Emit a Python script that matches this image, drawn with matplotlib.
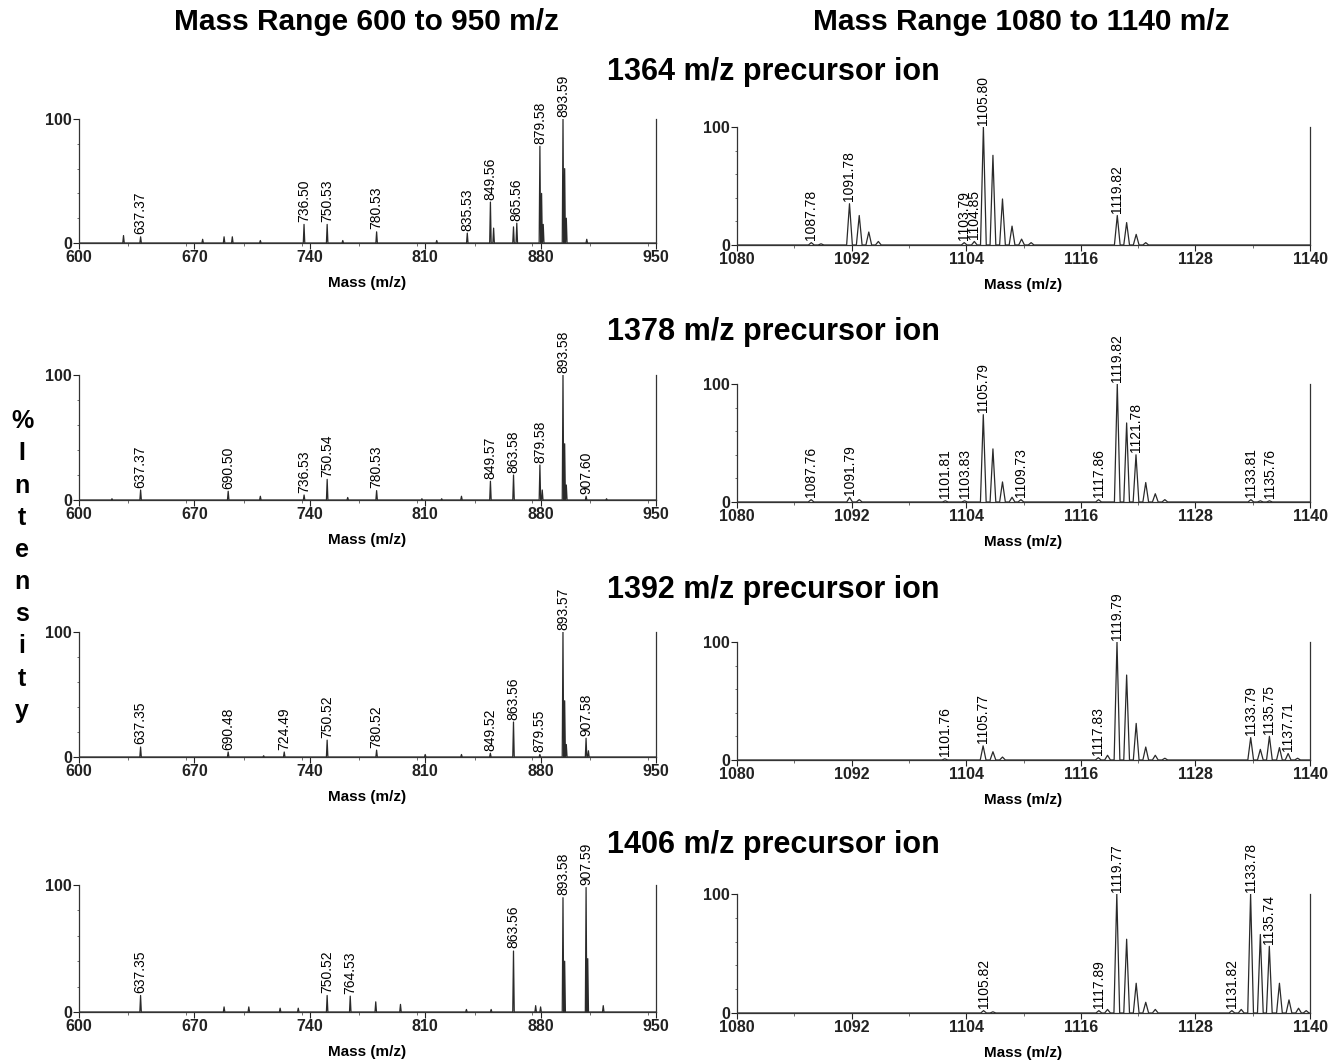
import matplotlib
matplotlib.use("Agg")
import matplotlib.pyplot as plt
from matplotlib.ticker import MultipleLocator

# peak lists (m/z, % intensity)
l1364_mz = [627, 637.37, 675, 688, 693, 710, 736.50, 750.53, 760, 780.53, 817, 835.53,
            849.56, 851.5, 863.56, 865.56, 879.58, 880.6, 881.6, 893.59, 894.6, 895.6, 908]
l1364_int = [6, 5, 3, 5, 5, 2, 15, 15, 2, 9, 2, 8,
             33, 12, 13, 16, 78, 40, 15, 100, 60, 20, 3]
l1364_lab = [637.37, 736.50, 750.53, 780.53, 835.53, 849.56, 865.56, 879.58, 893.59]

r1364_mz = [1087.78, 1088.8, 1091.78, 1092.8, 1093.8, 1094.8, 1103.79, 1104.85, 1105.80,
            1106.8, 1107.8, 1108.8, 1109.8, 1110.8, 1119.82, 1120.8, 1121.8, 1122.8]
r1364_int = [2, 1, 35, 25, 11, 3, 2, 3, 100, 76, 39, 16, 5, 2, 25, 19, 9, 2]
r1364_lab = [1087.78, 1091.78, 1103.79, 1104.85, 1105.80, 1119.82]

l1378_mz = [620, 637.37, 690.50, 710, 736.53, 750.54, 763, 780.53, 808, 820, 832,
            849.57, 863.58, 879.58, 881, 893.58, 894.6, 895.6, 907.60, 920]
l1378_int = [1, 8, 7, 3, 4, 16.5, 2, 7.5, 1, 1, 3,
             15, 20, 28, 8, 100, 45, 12, 3, 1]
l1378_lab = [637.37, 690.50, 736.53, 750.54, 780.53, 849.57, 863.58, 879.58, 893.58, 907.60]

r1378_mz = [1087.76, 1091.79, 1092.8, 1101.81, 1103.83, 1105.79, 1106.8, 1107.8, 1108.8,
            1109.73, 1117.86, 1119.82, 1120.8, 1121.78, 1122.8, 1123.8, 1124.8,
            1133.81, 1134.8, 1135.76]
r1378_int = [2, 4, 2, 1, 1, 74, 45, 17, 4, 2, 2, 100, 67, 40, 16.5, 7, 2, 2, 1, 1]
r1378_lab = [1087.76, 1091.79, 1101.81, 1103.83, 1105.79, 1109.73, 1117.86, 1119.82,
             1121.78, 1133.81, 1135.76]

l1392_mz = [637.35, 690.48, 712, 724.49, 750.52, 780.52, 810, 832, 849.52, 863.56,
            879.55, 893.57, 894.6, 895.6, 907.58, 909]
l1392_int = [8, 4, 1, 4, 13.5, 5.5, 2, 2, 3, 28, 2, 100, 45, 10, 15, 5]
l1392_lab = [637.35, 690.48, 724.49, 750.52, 780.52, 849.52, 863.56, 879.55, 893.57, 907.58]

r1392_mz = [1101.76, 1105.77, 1106.8, 1107.8, 1117.83, 1118.8, 1119.79, 1120.8, 1121.8,
            1122.8, 1123.8, 1124.8, 1133.79, 1134.8, 1135.75, 1136.8, 1137.71, 1138.7]
r1392_int = [1, 12, 7, 2.5, 2, 4, 100, 72, 31, 11, 4, 1.5, 19, 9, 20, 10.5, 5.5, 1.5]
r1392_lab = [1101.76, 1105.77, 1117.83, 1119.79, 1133.79, 1135.75, 1137.71]

l1406_mz = [637.35, 688, 703, 722, 733, 750.52, 764.53, 780, 795, 835, 850, 863.56,
            877, 880, 893.58, 894.6, 907.59, 908.6, 918]
l1406_int = [13, 4, 4, 3, 3, 13, 12.5, 8, 6, 2, 2, 48, 5, 4, 90, 40, 98, 42, 5]
l1406_lab = [637.35, 750.52, 764.53, 863.56, 893.58, 907.59]

r1406_mz = [1105.82, 1106.8, 1117.89, 1118.8, 1119.77, 1120.8, 1121.8, 1122.8, 1123.8,
            1131.82, 1132.8, 1133.78, 1134.8, 1135.74, 1136.8, 1137.8, 1138.8, 1139.6]
r1406_int = [2, 1, 2, 3, 100, 62, 25, 9, 3, 2, 3, 100, 66, 56, 25, 11, 4, 2]
r1406_lab = [1105.82, 1117.89, 1119.77, 1131.82, 1133.78, 1135.74]

precursors = ["1364", "1378", "1392", "1406"]
left_ticks = [600, 670, 740, 810, 880, 950]
right_ticks = [1080, 1092, 1104, 1116, 1128, 1140]

left_data = [(l1364_mz, l1364_int, l1364_lab), (l1378_mz, l1378_int, l1378_lab),
             (l1392_mz, l1392_int, l1392_lab), (l1406_mz, l1406_int, l1406_lab)]
right_data = [(r1364_mz, r1364_int, r1364_lab), (r1378_mz, r1378_int, r1378_lab),
              (r1392_mz, r1392_int, r1392_lab), (r1406_mz, r1406_int, r1406_lab)]

W, H = 1336, 1061
# axes boxes in pixels: (top of 100 line, 0 line)
left_rows = [(119, 243), (375, 500), (632, 757), (885, 1012)]
right_rows = [(127, 245), (384, 502), (642, 760), (894, 1013)]
title_y = [72, 332, 590, 845]

tick_font = ['Liberation Sans Narrow', 'Liberation Sans', 'DejaVu Sans']
text_font = ['Liberation Sans', 'DejaVu Sans']
line_col = '#2a2a2a'


def trace(mz, inten, lo, hi, w):
    xs, ys = [lo], [0]
    for m, h in sorted(zip(mz, inten)):
        xs += [m - w, m, m + w]
        ys += [0, h, 0]
    xs.append(hi)
    ys.append(0)
    return xs, ys


def draw_panel(ax, data, ticks, w, minor):
    mz, inten, labs = data
    lo, hi = ticks[0], ticks[-1]
    xs, ys = trace(mz, inten, lo, hi, w)
    ax.plot(xs, ys, color=line_col, lw=0.9)
    for lab in labs:
        h = inten[mz.index(lab)]
        ax.text(lab, h + 2, f"{lab:.2f}", rotation=90, ha='center', va='bottom',
                fontsize=10, family=text_font, clip_on=False)
    ax.set_xlim(lo, hi)
    ax.set_ylim(0, 100)
    ax.set_xticks(ticks)
    ax.xaxis.set_minor_locator(MultipleLocator(minor))
    ax.set_yticks([0, 100])
    ax.yaxis.set_minor_locator(MultipleLocator(20))
    ax.spines['top'].set_visible(False)
    for s in ['left', 'right', 'bottom']:
        ax.spines[s].set_color('#333333')
        ax.spines[s].set_linewidth(0.9)
    ax.tick_params(which='major', length=4, width=0.8, pad=1, colors='#222222')
    ax.tick_params(which='minor', length=2, width=0.6, colors='#555555')
    ax.tick_params(axis='y', which='minor', length=1.5)
    for t in ax.get_xticklabels() + ax.get_yticklabels():
        t.set_family(tick_font)
        t.set_fontweight('bold')
        t.set_fontsize(11.5)
    ax.set_xlabel('Mass (m/z)', family=tick_font, fontweight='bold', fontsize=11, labelpad=8)


fig = plt.figure(figsize=(W / 100, H / 100), dpi=100)

for i in range(4):
    t, b = left_rows[i]
    ax = fig.add_axes([79 / W, 1 - b / H, 577 / W, (b - t) / H])
    draw_panel(ax, left_data[i], left_ticks, 0.45, 35)
    t, b = right_rows[i]
    ax = fig.add_axes([737 / W, 1 - b / H, 573 / W, (b - t) / H])
    draw_panel(ax, right_data[i], right_ticks, 0.3, 6)
    fig.text(773 / W, 1 - title_y[i] / H, f"{precursors[i]} m/z precursor ion",
             ha='center', va='center', fontsize=22, fontweight='bold', family=text_font)

fig.text(367 / W, 1 - 22 / H, "Mass Range 600 to 950 m/z", ha='center', va='center',
         fontsize=21.5, fontweight='bold', family=text_font)
fig.text(1021 / W, 1 - 22 / H, "Mass Range 1080 to 1140 m/z", ha='center', va='center',
         fontsize=21.5, fontweight='bold', family=text_font)

fig.text(22 / W, 1 - 566 / H, "\n".join("%Intensity"), ha='center', va='center',
         fontsize=18, fontweight='bold', linespacing=1.43, family=text_font)

fig.savefig("out.png", dpi=100)
